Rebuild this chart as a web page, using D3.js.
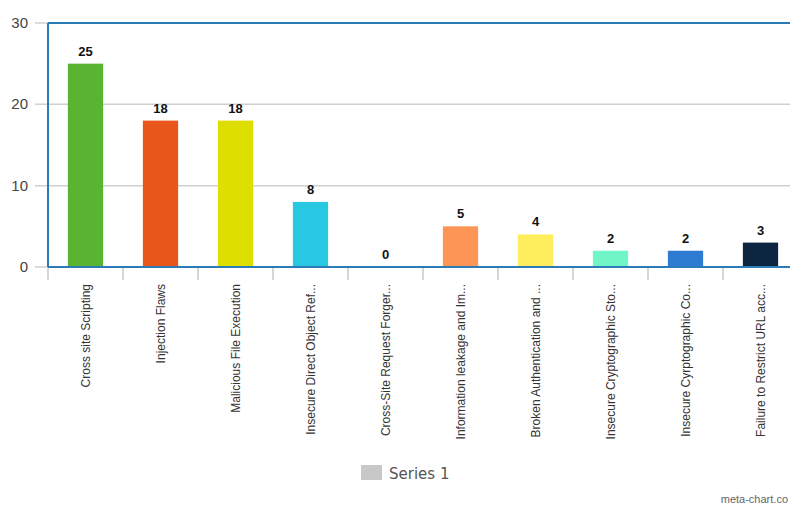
<!DOCTYPE html>
<html>
<head>
<meta charset="utf-8">
<script src="https://cdn.jsdelivr.net/npm/d3@7"></script>
<style>
  body { margin: 0; background: #fff; }
  text { font-family: "Liberation Sans", Arial, sans-serif; }
</style>
</head>
<body>
<script>
// Chart data
var categories = ["Cross site Scripting", "Injection Flaws", "Malicious File Execution",
  "Insecure Direct Object Ref...", "Cross-Site Request Forger...", "Information leakage and Im...",
  "Broken Authentication and ...", "Insecure Cryptographic Sto...", "Insecure Cyrptographic Co...",
  "Failure to Restrict URL acc..."];
var values = [25, 18, 18, 8, 0, 5, 4, 2, 2, 3];
var barColors = ["#58b431", "#e9561b", "#dede00", "#28c7e2", "#cccccc", "#fd9556",
  "#feed5c", "#6ff5c6", "#2e7bd2", "#0c2540"];
var yTicks = [0, 10, 20, 30];
var seriesName = "Series 1";

var width = 790, height = 507;
var plotLeft = 48, plotTop = 23, plotBottom = 267, plotRight = 798;

var svg = d3.select('body').append('svg')
  .attr('width', width)
  .attr('height', height);

var x = d3.scaleBand()
  .domain(categories)
  .range([plotLeft, plotRight])
  .paddingInner(0.53)
  .paddingOuter(0.265);

var y = d3.scaleLinear()
  .domain([0, 30])
  .range([plotBottom, plotTop]);

// grid lines
svg.append('g').selectAll('line')
  .data(yTicks)
  .enter().append('line')
  .attr('x1', 35)
  .attr('x2', width)
  .attr('y1', d => y(d))
  .attr('y2', d => y(d))
  .style('stroke', '#d0d0d0')
  .style('stroke-width', 1.5);

// y tick labels
svg.append('g').selectAll('text')
  .data(yTicks)
  .enter().append('text')
  .attr('x', 28)
  .attr('y', d => y(d) + 5)
  .attr('text-anchor', 'end')
  .style('font-size', '15px')
  .style('fill', '#444')
  .text(d => d);

// bars
svg.append('g').selectAll('rect')
  .data(values)
  .enter().append('rect')
  .attr('x', (d, i) => x(categories[i]))
  .attr('y', d => y(d))
  .attr('width', x.bandwidth())
  .attr('height', d => y(0) - y(d))
  .style('fill', (d, i) => barColors[i]);

// value labels
svg.append('g').selectAll('text')
  .data(values)
  .enter().append('text')
  .attr('x', (d, i) => x(categories[i]) + x.bandwidth() / 2)
  .attr('y', d => y(d) - 8)
  .attr('text-anchor', 'middle')
  .style('font-size', '13px')
  .style('font-weight', 'bold')
  .style('fill', '#111')
  .text(d => d);

// category tick marks at band boundaries
var step = x.step();
svg.append('g').selectAll('line')
  .data(categories)
  .enter().append('line')
  .attr('x1', (d, i) => plotLeft + i * step)
  .attr('x2', (d, i) => plotLeft + i * step)
  .attr('y1', plotBottom)
  .attr('y2', plotBottom + 13)
  .style('stroke', '#c8c8c8')
  .style('stroke-width', 1.5);

// frame
var frame = '#2b7bb9';
svg.append('line').attr('x1', plotLeft).attr('x2', width).attr('y1', plotTop).attr('y2', plotTop)
  .style('stroke', frame).style('stroke-width', 2);
svg.append('line').attr('x1', plotLeft).attr('x2', plotLeft).attr('y1', plotTop).attr('y2', plotBottom)
  .style('stroke', frame).style('stroke-width', 2);
svg.append('line').attr('x1', plotLeft).attr('x2', width).attr('y1', plotBottom).attr('y2', plotBottom)
  .style('stroke', frame).style('stroke-width', 2);

// category labels, rotated
svg.append('g').selectAll('text')
  .data(categories)
  .enter().append('text')
  .attr('transform', (d) => 'translate(' + (x(d) + x.bandwidth() / 2 + 4) + ',' + (plotBottom + 17) + ') rotate(-90)')
  .attr('text-anchor', 'end')
  .style('font-size', '12px')
  .style('fill', '#333')
  .text(d => d);

// legend
svg.append('rect')
  .attr('x', 361)
  .attr('y', 465)
  .attr('width', 21)
  .attr('height', 15)
  .style('fill', '#c8c8c8');

svg.append('text')
  .attr('x', 389)
  .attr('y', 479)
  .style('font-size', '15px')
  .style('fill', '#555')
  .style('font-family', '"DejaVu Sans", sans-serif')
  .text(seriesName);

svg.append('text')
  .attr('x', 788)
  .attr('y', 503)
  .attr('text-anchor', 'end')
  .style('font-size', '11px')
  .style('fill', '#666')
  .text('meta-chart.co');
</script>
</body>
</html>
